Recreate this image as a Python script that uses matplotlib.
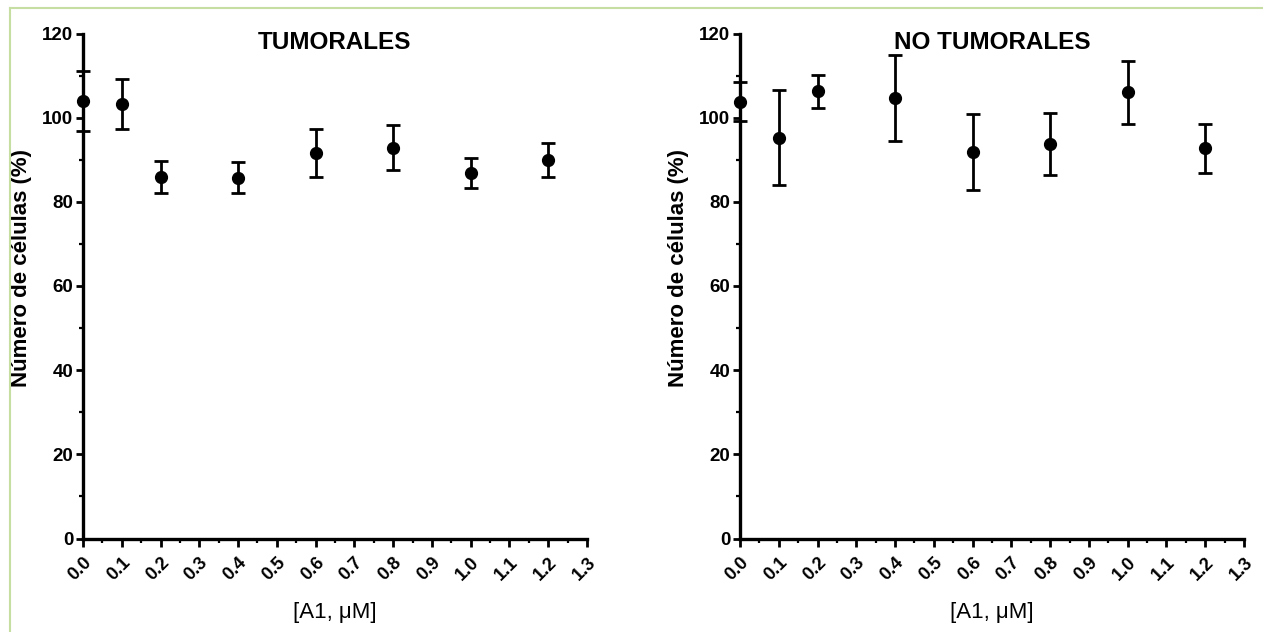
import matplotlib
matplotlib.use("Agg")
import matplotlib.pyplot as plt
from matplotlib.lines import Line2D
from matplotlib.ticker import MultipleLocator

plt.rcParams['font.family'] = ['Liberation Sans', 'DejaVu Sans']

conc = [0.0, 0.1, 0.2, 0.4, 0.6, 0.8, 1.0, 1.2]
tum_mean = [104.0, 103.2, 85.9, 85.7, 91.6, 92.9, 86.8, 89.9]
tum_err = [7.2, 6.0, 3.7, 3.7, 5.7, 5.4, 3.5, 4.0]
notum_mean = [103.8, 95.2, 106.3, 104.7, 91.8, 93.7, 106.0, 92.7]
notum_err = [4.6, 11.3, 3.9, 10.2, 9.0, 7.3, 7.5, 5.8]
titles = ["TUMORALES", "NO TUMORALES"]
xticks = [round(0.1 * i, 1) for i in range(14)]
xticklabels = [f"{v:.1f}" for v in xticks]
yticks = [0, 20, 40, 60, 80, 100, 120]

fig = plt.figure(figsize=(12.63, 6.32), dpi=100)
W, H = 1263, 632
bottom_px, top_px = 538.5, 33.5
axes_specs = [(83, 587), (740, 1244)]
series = [(tum_mean, tum_err), (notum_mean, notum_err)]

for (x0, x1), (m, e), title in zip(axes_specs, series, titles):
    ax = fig.add_axes([x0 / W, 1 - bottom_px / H, (x1 - x0) / W, (bottom_px - top_px) / H])
    ax.errorbar(conc, m, yerr=e, fmt='o', color='black', ms=8.5, elinewidth=2.0,
                capsize=5, capthick=2.0, clip_on=False, zorder=5)
    ax.set_xlim(0, 1.3)
    ax.set_ylim(0, 120)
    ax.set_xticks(xticks)
    ax.set_xticklabels(xticklabels, rotation=45, ha='right', rotation_mode='anchor',
                       fontweight='bold', fontsize=13)
    ax.xaxis.set_minor_locator(MultipleLocator(0.05))
    ax.set_yticks(yticks)
    ax.set_yticklabels([str(v) for v in yticks], fontweight='bold', fontsize=13.5)
    ax.yaxis.set_minor_locator(MultipleLocator(10))
    for s in ['top', 'right']:
        ax.spines[s].set_visible(False)
    for s in ['left', 'bottom']:
        ax.spines[s].set_linewidth(2.4)
    ax.tick_params(axis='both', which='major', length=5, width=2.0, pad=2)
    ax.tick_params(axis='x', which='major', length=6, pad=5)
    ax.tick_params(axis='both', which='minor', length=3, width=1.6)
    ax.set_ylabel("Número de células (%)", fontweight='bold', fontsize=16)
    ax.yaxis.set_label_coords(-0.102, 0.535)
    ax.set_xlabel("[A1, μM]", fontsize=16, labelpad=13)
    ax.text(0.5, 1.005, title, transform=ax.transAxes, ha='center', va='top',
            fontweight='bold', fontsize=17.5)

green = '#c6dea2'
fig.add_artist(Line2D([10 / W, 1.0], [1 - 8 / H, 1 - 8 / H], color=green, lw=1.5,
                      transform=fig.transFigure))
fig.add_artist(Line2D([10 / W, 10 / W], [0, 1 - 8 / H], color=green, lw=1.5,
                      transform=fig.transFigure))

fig.savefig("out.png", dpi=100)
